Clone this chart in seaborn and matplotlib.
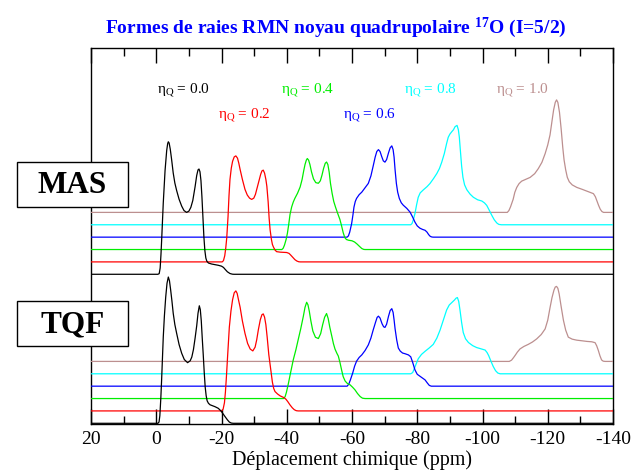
import matplotlib
matplotlib.use("Agg")
import matplotlib.pyplot as plt
import seaborn as sns
import pandas as pd
from matplotlib.patches import Rectangle

sns.set_theme(style="white")
plt.rcParams["font.family"] = ["Liberation Serif", "DejaVu Serif"]
plt.rcParams["mathtext.fontset"] = "custom"
plt.rcParams["mathtext.rm"] = "Liberation Serif"
plt.rcParams["mathtext.bf"] = "Liberation Serif:bold"
plt.rcParams["mathtext.it"] = "Liberation Serif:italic"
plt.rcParams["axes.unicode_minus"] = False

# Asymmetry parameters and their colours
eta_labels = ["0.0", "0.2", "0.4", "0.6", "0.8", "1.0"]
line_colors = ["#000000", "#ff0000", "#00ee00", "#0000ff", "#00ffff", "#bc8f8f"]

# ---- MAS line shapes: (shift in ppm, intensity above own baseline) ----
mas_00 = [(20, 0), (-0.5, 0), (-0.9, 0.05), (-1.2, 0.5), (-1.45, 1.6), (-1.65, 2.7), (-1.9, 4.2),
          (-2.15, 5.7), (-2.7, 8.3), (-3.2, 9.9), (-3.5, 10.45), (-3.7, 10.6), (-3.95, 10.5),
          (-4.3, 10.0), (-4.7, 9.2), (-5.2, 8.1), (-5.7, 7.3), (-6.25, 6.7), (-7.0, 6.0),
          (-7.8, 5.45), (-8.5, 5.1), (-9.3, 4.95), (-10.0, 5.05), (-10.6, 5.35), (-11.2, 5.9),
          (-11.9, 7.0), (-12.4, 7.9), (-12.8, 8.35), (-13.1, 8.42), (-13.4, 8.2), (-13.7, 7.5),
          (-14.0, 6.2), (-14.3, 4.6), (-14.6, 3.0), (-14.9, 1.9), (-15.2, 1.3), (-15.5, 1.05),
          (-16.0, 0.9), (-17.0, 0.82), (-19.0, 0.72), (-20.0, 0.65), (-20.6, 0.55), (-21.1, 0.4),
          (-21.8, 0.2), (-22.6, 0.06), (-23.3, 0.01), (-23.8, 0), (-140, 0)]

mas_02 = [(20, 0), (-20.2, 0), (-20.6, 0.1), (-21.0, 0.5), (-21.3, 1.1), (-21.6, 1.9), (-22.0, 3.6),
          (-22.3, 5.3), (-22.6, 6.6), (-23.0, 7.5), (-23.4, 8.05), (-23.9, 8.4), (-24.4, 8.48),
          (-24.9, 8.3), (-25.3, 7.9), (-25.7, 7.4), (-26.4, 6.6), (-27.2, 5.8), (-27.9, 5.35),
          (-28.6, 5.1), (-29.25, 5.0), (-29.9, 5.1), (-30.4, 5.4), (-30.8, 5.8), (-31.4, 6.4),
          (-32.0, 7.0), (-32.4, 7.28), (-32.8, 7.34), (-33.2, 7.1), (-33.6, 6.6), (-33.9, 6.05),
          (-34.3, 4.8), (-34.6, 3.5), (-34.9, 2.56), (-35.3, 1.8), (-35.6, 1.4), (-35.9, 1.2),
          (-36.4, 0.95), (-36.9, 0.82), (-38.0, 0.78), (-40.0, 0.75), (-40.7, 0.68), (-41.2, 0.55),
          (-41.8, 0.38), (-42.5, 0.18), (-43.1, 0.07), (-43.7, 0.01), (-44.2, 0), (-140, 0)]

mas_04 = [(20, 0), (-38.5, 0), (-38.9, 0.1), (-39.3, 0.35), (-39.8, 0.8), (-40.2, 1.3), (-40.6, 2.0),
          (-41.0, 2.8), (-41.5, 3.4), (-42.0, 3.8), (-42.5, 4.1), (-43.3, 4.5), (-44.1, 5.0),
          (-44.7, 5.6), (-45.2, 6.3), (-45.6, 6.8), (-46.0, 7.15), (-46.3, 7.28), (-46.7, 7.15),
          (-47.1, 6.8), (-47.6, 6.2), (-48.2, 5.65), (-48.9, 5.35), (-49.7, 5.3), (-50.3, 5.5),
          (-50.8, 5.95), (-51.3, 6.5), (-51.8, 6.9), (-52.2, 7.0), (-52.6, 6.8), (-53.0, 6.2),
          (-53.4, 5.3), (-53.9, 4.5), (-54.4, 3.85), (-55.0, 3.35), (-55.6, 2.9), (-56.3, 2.4),
          (-56.8, 1.9), (-57.3, 1.35), (-57.8, 0.95), (-58.3, 0.8), (-59.0, 0.74), (-60.0, 0.7),
          (-60.8, 0.6), (-61.5, 0.45), (-62.3, 0.25), (-63.0, 0.08), (-63.6, 0.01), (-64.0, 0),
          (-140, 0)]

mas_06 = [(20, 0), (-58.5, 0), (-58.9, 0.1), (-59.3, 0.4), (-59.6, 0.75), (-59.9, 1.1), (-60.3, 1.8),
          (-60.6, 2.4), (-61.0, 2.85), (-61.4, 3.1), (-62.2, 3.4), (-63.0, 3.6), (-64.0, 3.95),
          (-65.0, 4.3), (-65.8, 4.9), (-66.5, 5.7), (-67.1, 6.4), (-67.6, 6.85), (-68.1, 7.0),
          (-68.6, 6.85), (-69.1, 6.45), (-69.6, 6.1), (-70.1, 6.0), (-70.6, 6.2), (-71.2, 6.75),
          (-71.7, 7.15), (-72.2, 7.3), (-72.6, 7.0), (-72.9, 6.4), (-73.2, 5.4), (-73.6, 4.3),
          (-74.0, 3.6), (-74.5, 3.1), (-75.1, 2.75), (-75.7, 2.56), (-76.8, 2.3), (-77.8, 2.0),
          (-78.6, 1.6), (-79.3, 1.2), (-80.0, 0.9), (-80.8, 0.72), (-81.6, 0.62), (-82.4, 0.55),
          (-83.0, 0.4), (-83.5, 0.2), (-84.0, 0.06), (-84.5, 0.01), (-85.0, 0), (-140, 0)]

mas_08 = [(20, 0), (-78.0, 0), (-78.4, 0.1), (-78.8, 0.4), (-79.3, 0.9), (-79.8, 1.6), (-80.3, 2.2),
          (-80.9, 2.55), (-81.9, 2.8), (-83.0, 3.05), (-83.9, 3.3), (-85.0, 3.7), (-86.0, 4.1),
          (-86.8, 4.5), (-87.5, 5.0), (-88.3, 5.7), (-89.0, 6.5), (-89.5, 7.0), (-90.0, 7.25),
          (-90.6, 7.45), (-91.1, 7.6), (-91.6, 7.85), (-92.2, 7.95), (-92.6, 7.6), (-92.9, 7.0),
          (-93.2, 6.0), (-93.6, 4.7), (-94.0, 3.8), (-94.5, 3.2), (-95.2, 2.8), (-96.2, 2.45),
          (-97.2, 2.2), (-98.5, 2.0), (-99.8, 1.9), (-100.6, 1.75), (-101.3, 1.55), (-102.0, 1.2),
          (-102.8, 0.78), (-103.6, 0.4), (-104.4, 0.14), (-105.0, 0.03), (-105.8, 0), (-140, 0)]

mas_10 = [(20, 0), (-107.6, 0), (-108.1, 0.15), (-108.6, 0.45), (-109.0, 0.75), (-109.4, 1.05),
          (-109.9, 1.6), (-110.5, 2.0), (-111.2, 2.3), (-112.0, 2.5), (-113.3, 2.65), (-114.6, 2.8),
          (-116.0, 3.1), (-117.1, 3.5), (-118.2, 4.0), (-119.2, 4.7), (-120.0, 5.4), (-120.7, 6.2),
          (-121.3, 7.3), (-121.8, 8.2), (-122.3, 8.8), (-122.7, 9.0), (-123.1, 8.8), (-123.6, 8.0),
          (-124.1, 6.7), (-124.6, 5.2), (-125.0, 4.2), (-125.5, 3.4), (-126.0, 2.8), (-126.6, 2.45),
          (-127.5, 2.2), (-128.9, 2.0), (-130.5, 1.85), (-132.0, 1.7), (-133.2, 1.58), (-134.0, 1.5),
          (-134.6, 1.25), (-135.1, 0.9), (-135.6, 0.55), (-136.1, 0.25), (-136.6, 0.07),
          (-137.1, 0), (-140, 0)]

# ---- TQF line shapes ----
tqf_00 = [(20, 0), (-0.5, 0), (-0.85, 0.1), (-1.1, 0.6), (-1.4, 2.0), (-1.65, 3.5), (-1.9, 5.2),
          (-2.15, 6.9), (-2.5, 8.6), (-2.9, 10.1), (-3.3, 11.2), (-3.7, 11.7), (-4.05, 11.4),
          (-4.4, 10.7), (-4.8, 9.8), (-5.2, 8.8), (-5.7, 7.9), (-6.25, 7.2), (-7.0, 6.3),
          (-7.8, 5.6), (-8.6, 5.1), (-9.6, 4.85), (-10.4, 5.0), (-10.9, 5.3), (-11.4, 5.9),
          (-11.9, 6.8), (-12.4, 7.8), (-12.8, 8.8), (-13.2, 9.4), (-13.5, 9.1), (-13.8, 8.2),
          (-14.1, 6.8), (-14.4, 5.5), (-14.7, 4.1), (-15.0, 2.9), (-15.3, 2.2), (-15.6, 1.8),
          (-16.0, 1.6), (-16.5, 1.48), (-18.0, 1.33), (-19.0, 1.2), (-19.8, 1.0), (-20.5, 0.75),
          (-21.1, 0.53), (-21.8, 0.28), (-22.4, 0.1), (-23.0, 0.02), (-23.6, 0), (-140, 0)]

tqf_02 = [(20, 0), (-20.1, 0), (-20.5, 0.15), (-20.9, 0.65), (-21.2, 1.5), (-21.5, 2.7), (-21.9, 4.5),
          (-22.4, 6.7), (-22.9, 8.0), (-23.4, 8.9), (-23.9, 9.45), (-24.4, 9.6), (-24.8, 9.4),
          (-25.2, 8.9), (-25.7, 8.3), (-26.4, 7.2), (-27.2, 6.2), (-28.0, 5.4), (-28.8, 4.95),
          (-29.6, 4.8), (-30.3, 5.1), (-30.8, 5.7), (-31.3, 6.5), (-31.9, 7.3), (-32.4, 7.7),
          (-32.8, 7.76), (-33.2, 7.5), (-33.6, 6.9), (-34.0, 5.9), (-34.5, 4.5), (-35.1, 3.3),
          (-35.6, 2.3), (-36.0, 1.8), (-36.4, 1.55), (-37.2, 1.35), (-38.0, 1.2), (-39.0, 1.08),
          (-39.7, 0.95), (-40.3, 0.75), (-41.0, 0.48), (-41.7, 0.25), (-42.3, 0.1), (-42.9, 0.02),
          (-43.5, 0), (-140, 0)]

tqf_04 = [(20, 0), (-39.0, 0), (-39.5, 0.15), (-39.9, 0.5), (-40.5, 1.2), (-41.2, 2.1), (-42.0, 3.1),
          (-42.8, 3.9), (-43.5, 4.7), (-44.3, 5.6), (-45.1, 6.6), (-45.6, 7.3), (-46.1, 7.7),
          (-46.5, 7.5), (-46.9, 7.0), (-47.4, 6.2), (-48.0, 5.4), (-48.8, 4.9), (-49.7, 4.8),
          (-50.4, 5.2), (-51.0, 5.9), (-51.6, 6.5), (-52.2, 6.8), (-52.7, 6.4), (-53.2, 5.7),
          (-53.8, 5.0), (-54.3, 4.4), (-54.8, 3.95), (-55.4, 3.6), (-55.8, 3.4), (-56.3, 2.9),
          (-56.8, 2.3), (-57.3, 1.75), (-57.9, 1.4), (-58.6, 1.2), (-59.4, 1.1), (-60.2, 0.9),
          (-60.9, 0.7), (-61.7, 0.4), (-62.5, 0.16), (-63.2, 0.03), (-64.0, 0), (-140, 0)]

tqf_06 = [(20, 0), (-58.5, 0), (-59.0, 0.15), (-59.5, 0.5), (-60.2, 1.04), (-60.8, 1.6), (-61.4, 2.0),
          (-62.2, 2.3), (-63.0, 2.5), (-64.0, 2.85), (-65.0, 3.3), (-65.8, 3.85), (-66.5, 4.5),
          (-67.2, 5.1), (-67.7, 5.5), (-68.1, 5.6), (-68.6, 5.45), (-69.2, 5.0), (-69.7, 4.75),
          (-70.1, 4.7), (-70.6, 4.95), (-71.2, 5.6), (-71.7, 6.05), (-72.2, 6.2), (-72.6, 5.9),
          (-72.9, 5.3), (-73.2, 4.6), (-73.7, 3.7), (-74.2, 3.05), (-74.8, 2.8), (-75.5, 2.65),
          (-76.2, 2.6), (-77.3, 2.5), (-78.0, 2.35), (-78.6, 1.9), (-79.3, 1.3), (-80.0, 0.95),
          (-80.8, 0.8), (-81.6, 0.65), (-82.4, 0.5), (-83.1, 0.25), (-83.7, 0.06), (-84.3, 0),
          (-140, 0)]

tqf_08 = [(20, 0), (-78.0, 0), (-78.6, 0.1), (-79.3, 0.55), (-80.3, 1.2), (-81.3, 1.55), (-82.4, 1.8),
          (-83.6, 2.05), (-84.9, 2.35), (-86.0, 2.85), (-87.0, 3.5), (-88.0, 4.3), (-89.0, 5.1),
          (-89.8, 5.5), (-90.6, 5.7), (-91.4, 5.9), (-91.9, 6.05), (-92.3, 6.1), (-92.7, 5.8),
          (-93.1, 5.1), (-93.6, 4.1), (-94.1, 3.3), (-94.8, 2.8), (-95.7, 2.5), (-97.0, 2.25),
          (-98.2, 2.1), (-99.5, 2.0), (-100.8, 1.9), (-101.4, 1.7), (-101.9, 1.45), (-102.6, 1.0),
          (-103.3, 0.58), (-104.0, 0.25), (-104.7, 0.06), (-105.4, 0), (-140, 0)]

tqf_10 = [(20, 0), (-108.2, 0), (-108.9, 0.1), (-109.5, 0.3), (-110.0, 0.48), (-110.7, 0.75),
          (-111.5, 1.0), (-112.7, 1.2), (-114.0, 1.36), (-115.3, 1.55), (-116.6, 1.8), (-118.0, 2.15),
          (-119.2, 2.6), (-120.0, 3.3), (-120.7, 4.3), (-121.3, 5.1), (-121.9, 5.7), (-122.3, 5.95),
          (-122.7, 6.0), (-123.1, 5.85), (-123.5, 5.4), (-124.1, 4.4), (-124.8, 3.3), (-125.5, 2.5),
          (-126.3, 1.94), (-127.5, 1.78), (-128.9, 1.7), (-130.5, 1.65), (-132.0, 1.6),
          (-133.5, 1.57), (-134.5, 1.5), (-135.0, 1.25), (-135.5, 0.88), (-136.0, 0.45),
          (-136.5, 0.12), (-137.0, 0.02), (-137.6, 0), (-140, 0)]

mas_curves = [mas_00, mas_02, mas_04, mas_06, mas_08, mas_10]
tqf_curves = [tqf_00, tqf_02, tqf_04, tqf_06, tqf_08, tqf_10]

# vertical stacking of the baselines
stack_step = 0.99
mas_base = 11.92
tqf_base = 0.0

W, H = 635, 472
fig = plt.figure(figsize=(W / 100, H / 100), dpi=100)
ax = fig.add_axes([91 / W, 48 / H, 522 / W, 376 / H])
ax.set_facecolor("white")

for group, base in ((mas_curves, mas_base), (tqf_curves, tqf_base)):
    for i, pts in enumerate(group):
        df = pd.DataFrame(pts, columns=["ppm", "inten"])
        df["y"] = base + i * stack_step + df["inten"]
        sns.lineplot(data=df, x="ppm", y="y", ax=ax, color=line_colors[i], lw=0.9,
                     sort=False, estimator=None, legend=False, zorder=10 - i)

ax.set_xlim(20, -140)
ax.set_ylim(-0.056, 30.02)
ax.set_xlabel("")
ax.set_ylabel("")
ax.set_yticks([])
ax.set_xticks(list(range(20, -141, -20)))
ax.set_xticks(list(range(10, -140, -20)), minor=True)
ax.tick_params(axis="x", which="both", direction="in", top=True, bottom=True,
               labeltop=False, color="black", width=1.0)
ax.tick_params(axis="x", which="major", length=11, labelsize=14, pad=5, labelcolor="black")
ax.tick_params(axis="x", which="minor", length=5.5)
for sp in ax.spines.values():
    sp.set_color("black")
    sp.set_linewidth(1.0)
    sp.set_visible(True)
ax.grid(False)

# curve labels
label_pos = [(157, 92), (218, 117), (281, 92), (343, 117), (404, 92), (496, 92)]
for (px, py), lab, col in zip(label_pos, eta_labels, line_colors):
    fig.text(px / W, 1 - py / H, "η$_\\mathrm{Q}$ = " + lab, color=col, fontsize=11,
             ha="left", va="baseline")

fig.text(336 / W, 1 - 33 / H, r"Formes de raies RMN noyau quadrupolaire $^{\mathbf{17}}$O (I=5/2)",
         color="#0000ff", fontsize=14, fontweight="bold", ha="center", va="baseline")
fig.text(352 / W, 1 - 465 / H, "Déplacement chimique (ppm)", fontsize=14.5,
         ha="center", va="baseline", color="black")

# boxed experiment names
for name, top, base_y in (("MAS", 162, 193), ("TQF", 301, 332)):
    rect = Rectangle((17 / W, 1 - (top + 45) / H), 111 / W, 45 / H, transform=fig.transFigure,
                     facecolor="white", edgecolor="black", lw=1.0, zorder=5)
    fig.add_artist(rect)
    fig.text(72.5 / W, 1 - base_y / H, name, fontsize=22.5, fontweight="bold",
             ha="center", va="baseline", color="black", zorder=6)

fig.savefig("out.png", dpi=100, facecolor="white")
